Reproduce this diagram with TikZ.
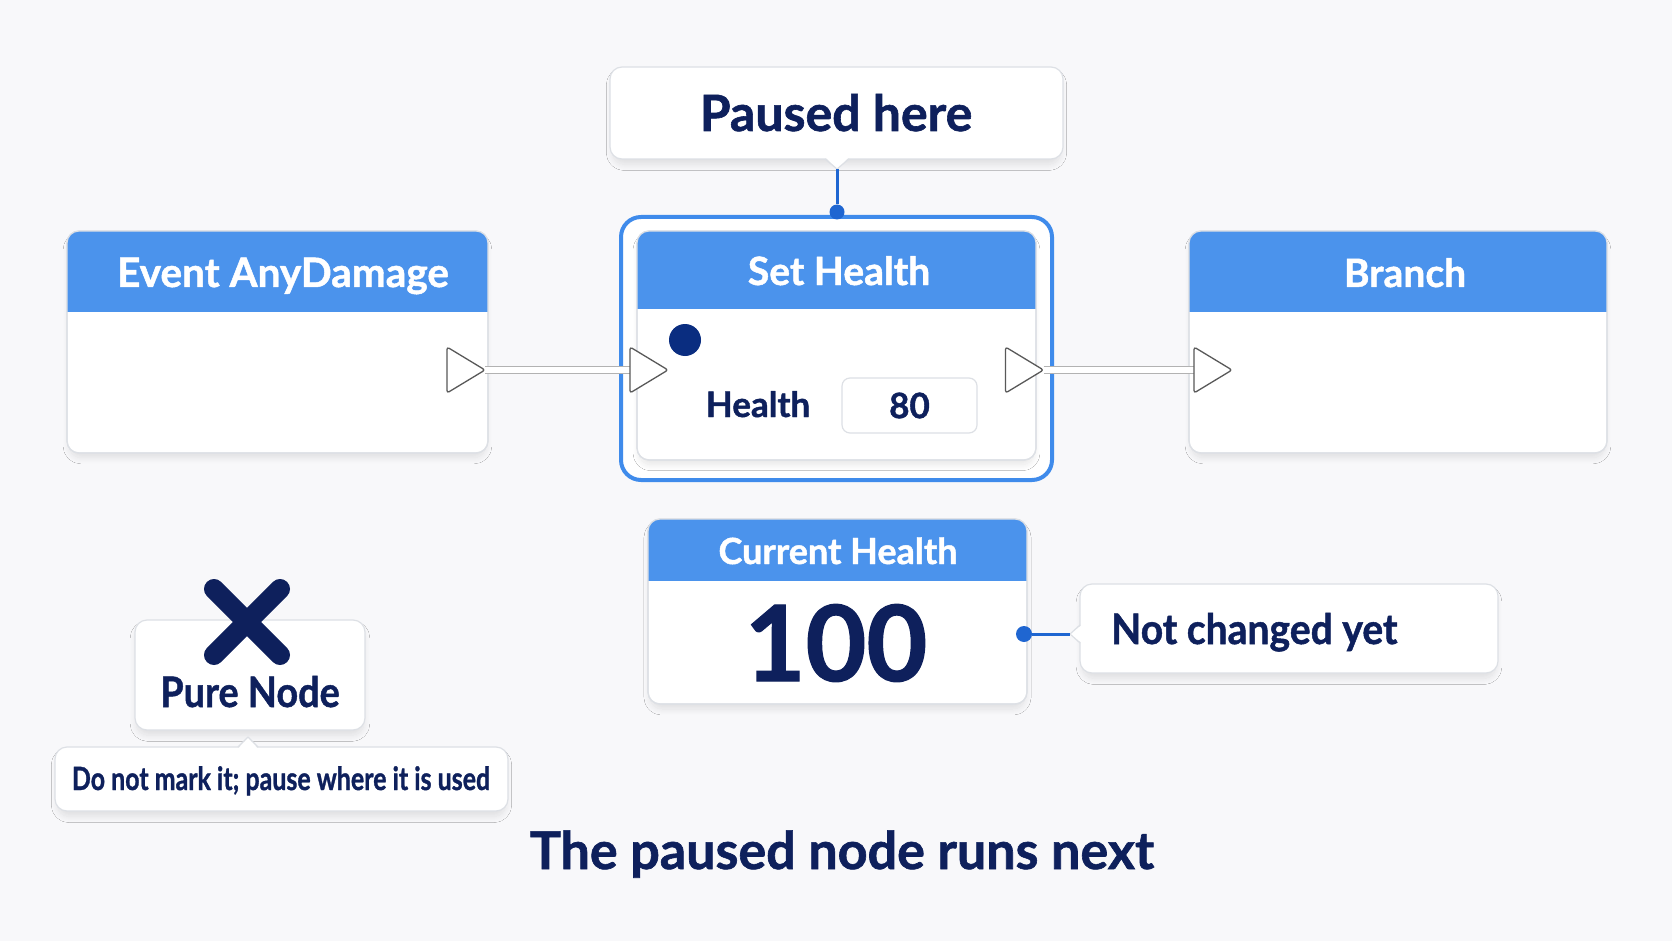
\documentclass[tikz,border=0pt]{standalone}
\usepackage{fontspec}
\usepackage{graphicx}
\setmainfont{Lato}
\usetikzlibrary{shadows.blur,calc}
\definecolor{bg}{HTML}{F8F8FA}
\definecolor{navy}{HTML}{0E205C}
\definecolor{hblue}{HTML}{4B93EC}
\definecolor{hilite}{HTML}{3F8BEB}
\definecolor{cblue}{HTML}{1F66D1}
\definecolor{dotnavy}{HTML}{0A2D80}
\definecolor{bord}{HTML}{DDE0E5}
\newcommand\fs[1]{\fontsize{#1}{#1}\selectfont\bfseries\addfontfeatures{FakeBold=1.2}}
\tikzset{
  card/.style={draw=bord, line width=1.2pt, fill=white, rounded corners=12pt, inner sep=0pt, outer sep=0pt,
    blur shadow={shadow xshift=0pt, shadow yshift=-6pt, shadow blur radius=6pt, shadow blur steps=12, shadow opacity=10, shadow scale=0.99}},
  htitle/.style={anchor=base, text=white, inner sep=0pt, font=\fs{39}},
  navytxt/.style={anchor=base, text=navy, inner sep=0pt},
  wire/.style={draw=gray!60, line width=1pt, double=white, double distance=5.5pt},
  pinline/.style={draw=gray!70!black, line width=1.3pt, fill=white, rounded corners=2.5pt, line join=round},
  conn/.style={cblue, line width=3pt},
}
\begin{document}
\begin{tikzpicture}[x=1pt,y=-1pt]
\useasboundingbox (0,0) rectangle (1672,941);
\fill[bg] (0,0) rectangle (1672,941);

% Paused here callout
\node[card, minimum width=453pt, minimum height=92pt] (pause) at (836.5,113) {};
\fill[white] (825,157) -- (837,169) -- (849,157) -- cycle;
\draw[bord, line width=1.2pt, line join=round] (825,159) -- (837,169) -- (849,159);
\node[navytxt, font=\fs{50}] (pauset) at (836,131) {Paused here};
\coordinate (ptip) at (837,169);

% highlight around Set Health
\draw[hilite, line width=4pt, fill=white, rounded corners=20pt] (621,217) rectangle (1052,480);

% Event AnyDamage
\node[card, minimum width=421pt, minimum height=222pt] (ev) at (277.5,342) {};
\begin{scope}\clip[rounded corners=12pt] (67,231) rectangle (488,453); \fill[hblue] (67,231) rectangle (488,312);\end{scope}
\draw[bord, line width=1.2pt, rounded corners=12pt] (67,231) rectangle (488,453);
\node[htitle, font=\fs{40.5}] (evt) at (283,287) {Event AnyDamage};

% Set Health
\node[card, minimum width=399pt, minimum height=229pt] (sh) at (836.5,345.5) {};
\begin{scope}\clip[rounded corners=12pt] (637,231) rectangle (1036,460); \fill[hblue] (637,231) rectangle (1036,309);\end{scope}
\draw[bord, line width=1.2pt, rounded corners=12pt] (637,231) rectangle (1036,460);
\node[htitle] (sht) at (839,285) {Set Health};
\node[circle, fill=dotnavy, minimum size=32pt, inner sep=0pt] (shdot) at (685,340) {};
\node[navytxt, font=\fs{35}] (hlab) at (758,417) {Health};
\node[draw=bord, line width=1.2pt, fill=white, rounded corners=8pt, minimum width=135pt, minimum height=55pt, inner sep=0pt,
  text=navy, font=\fs{35}] (hval) at (909.5,405.5) {80};

% Branch
\node[card, minimum width=418pt, minimum height=222pt] (br) at (1398,342) {};
\begin{scope}\clip[rounded corners=12pt] (1189,231) rectangle (1607,453); \fill[hblue] (1189,231) rectangle (1607,312);\end{scope}
\draw[bord, line width=1.2pt, rounded corners=12pt] (1189,231) rectangle (1607,453);
\node[htitle] (brt) at (1405,287) {Branch};

% paused marker
\node[circle, fill=cblue, minimum size=15pt, inner sep=0pt] (pdot) at (837,212) {};
\draw[conn] (ptip) -- (pdot);

% pins and wires
\node[inner sep=0pt, outer sep=0pt, minimum width=38pt, minimum height=46pt] (evout) at (466,370) {};
\node[inner sep=0pt, outer sep=0pt, minimum width=38pt, minimum height=46pt] (shin) at (649,370) {};
\node[inner sep=0pt, outer sep=0pt, minimum width=38pt, minimum height=46pt] (shout) at (1024.5,370) {};
\node[inner sep=0pt, outer sep=0pt, minimum width=38pt, minimum height=46pt] (brin) at (1213,370) {};
\draw[wire] (evout) -- (shin);
\draw[wire] (shout) -- (brin);
\foreach \p in {evout,shin,shout,brin}{
  \draw[pinline] ($(\p.center)+(-19,-23)$) -- ($(\p.center)+(19,0)$) -- ($(\p.center)+(-19,23)$) -- cycle;
}

% Current Health
\node[card, minimum width=379pt, minimum height=185pt] (ch) at (837.5,611.5) {};
\begin{scope}\clip[rounded corners=12pt] (648,519) rectangle (1027,704); \fill[hblue] (648,519) rectangle (1027,581);\end{scope}
\draw[bord, line width=1.2pt, rounded corners=12pt] (648,519) rectangle (1027,704);
\node[anchor=base, text=white, inner sep=0pt, font=\fs{36}] (cht) at (838,564) {Current Health};
\node[navytxt, font=\fs{105}] (chv) at (836,681) {100};

% Not changed yet callout
\node[card, minimum width=418pt, minimum height=89pt] (nc) at (1289,628.5) {};
\fill[white] (1082,625) -- (1070,634) -- (1082,643) -- cycle;
\draw[bord, line width=1.2pt, line join=round] (1080,625) -- (1070,634) -- (1080,643);
\coordinate (nctip) at (1070,634);
\node[navytxt, font=\fs{42}, anchor=base west] (nct) at (1111,644) {\scalebox{0.93}[1]{Not changed yet}};
\node[circle, fill=cblue, minimum size=16pt, inner sep=0pt] (chdot) at (1024,634) {};
\draw[conn] (chdot) -- (nctip);

% Pure Node
\node[card, minimum width=230pt, minimum height=110pt] (pn) at (250,675) {};
\node[navytxt, font=\fs{42}] (pnt) at (250,707) {\scalebox{0.9}[1]{Pure Node}};
\draw[navy, line width=20pt, line cap=round] (214,589) -- (280,655) (280,589) -- (214,655);

% Do not mark callout
\node[card, minimum width=453pt, minimum height=64pt] (dn) at (281.5,779) {};
\fill[white] (238,749) -- (248,737) -- (258,749) -- cycle;
\draw[bord, line width=1.2pt, line join=round] (238,747) -- (248,737) -- (258,747);
\node[navytxt, font=\fs{32}] (dnt) at (281,790) {\scalebox{0.78}[1]{Do not mark it; pause where it is used}};

% title
\node[navytxt, font=\fs{52}] (title) at (842,869) {The paused node runs next};
\end{tikzpicture}
\end{document}
